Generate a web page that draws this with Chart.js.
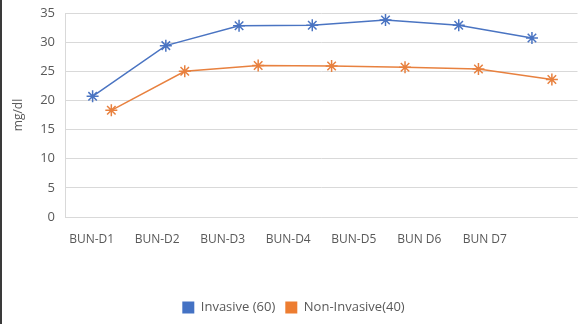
<!DOCTYPE html>
<html lang="en">

<head>
    <meta charset="UTF-8">
    <title>BUN by Day</title>
    <script src="https://cdn.jsdelivr.net/npm/chart.js"></script>
    <style>
        body {
            margin: 0;
            background: #fff;
        }

        #wrap {
            width: 583px;
            height: 324px;
            border-left: 2px solid #3a3a3a;
        }
    </style>
</head>

<body>
    <div id="wrap">
        <canvas id="bunChart" width="583" height="324"></canvas>
    </div>

    <script>
        const days = ['BUN-D1', 'BUN-D2', 'BUN-D3', 'BUN-D4', 'BUN-D5', 'BUN D6', 'BUN D7'];
        const invasive = [20.7, 29.4, 32.8, 32.9, 33.8, 32.9, 30.7];
        const nonInvasive = [18.3, 25.0, 26.0, 25.9, 25.7, 25.4, 23.6];
        const yTicks = [0, 5, 10, 15, 20, 25, 30, 35];

        const textColor = '#595959';
        const gridColor = '#d9d9d9';

        const toPoints = (values) => values.map((v, i) => ({ x: i, y: v }));

        const ctx = document.getElementById('bunChart').getContext('2d');
        const bunChart = new Chart(ctx, {
            type: 'line',
            data: {
                datasets: [{
                    label: 'Invasive (60)',
                    data: toPoints(invasive),
                    xAxisID: 'xInv',
                    borderColor: '#4a74c2',
                    backgroundColor: '#4472C4',
                    borderWidth: 1.5,
                    pointStyle: 'star',
                    pointRadius: 6,
                    pointBorderWidth: 1.5,
                    pointBorderColor: '#4a74c2'
                }, {
                    label: 'Non-Invasive(40)',
                    data: toPoints(nonInvasive),
                    xAxisID: 'xNon',
                    borderColor: '#e8813f',
                    backgroundColor: '#ED7D31',
                    borderWidth: 1.5,
                    pointStyle: 'star',
                    pointRadius: 6,
                    pointBorderWidth: 1.5,
                    pointBorderColor: '#e8813f'
                }]
            },
            options: {
                responsive: false,
                animation: false,
                layout: {
                    padding: { top: 13, right: 0, bottom: 0, left: 0 }
                },
                plugins: {
                    tooltip: { enabled: false },
                    legend: {
                        position: 'bottom',
                        labels: {
                            boxWidth: 12,
                            boxHeight: 12,
                            padding: 10,
                            color: textColor,
                            font: { family: 'Open Sans', size: 13 },
                            generateLabels: (chart) => chart.data.datasets.map((ds, i) => ({
                                text: ds.label,
                                fillStyle: ds.backgroundColor,
                                strokeStyle: ds.backgroundColor,
                                lineWidth: 0,
                                fontColor: textColor,
                                datasetIndex: i
                            }))
                        }
                    }
                },
                scales: {
                    // category labels along the bottom
                    x: {
                        type: 'linear',
                        position: 'bottom',
                        min: -0.406,
                        max: 7.414,
                        afterBuildTicks: (axis) => {
                            axis.ticks = days.map((_, i) => ({ value: i }));
                        },
                        afterFit: (axis) => {
                            axis.height = 74;
                            axis.paddingLeft = 0;
                            axis.paddingRight = 0;
                        },
                        grid: { display: false, drawTicks: false },
                        border: { color: gridColor },
                        ticks: {
                            padding: 15,
                            color: textColor,
                            font: { family: 'Open Sans', size: 12 },
                            maxRotation: 0,
                            autoSkip: false,
                            callback: (v) => days[v]
                        }
                    },
                    xInv: {
                        type: 'linear',
                        display: false,
                        min: -0.377,
                        max: 6.622
                    },
                    xNon: {
                        type: 'linear',
                        display: false,
                        min: -0.631,
                        max: 6.349
                    },
                    y: {
                        min: 0,
                        max: 35,
                        afterBuildTicks: (axis) => {
                            axis.ticks = yTicks.map((v) => ({ value: v }));
                        },
                        afterFit: (axis) => {
                            axis.width = 63;
                            axis.paddingTop = 0;
                            axis.paddingBottom = 0;
                        },
                        grid: { color: gridColor, drawTicks: false },
                        border: { color: gridColor },
                        ticks: {
                            padding: 10,
                            color: textColor,
                            font: { family: 'Open Sans', size: 13 }
                        },
                        title: {
                            display: true,
                            text: 'mg/dl',
                            color: textColor,
                            font: { family: 'Open Sans', size: 12 },
                            padding: { top: 9, bottom: 0 }
                        }
                    }
                }
            }
        });
    </script>
</body>

</html>
